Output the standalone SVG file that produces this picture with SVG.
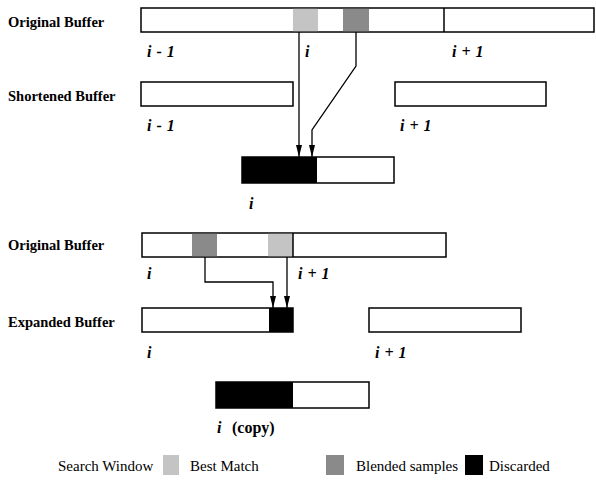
<svg xmlns="http://www.w3.org/2000/svg" width="596" height="483" viewBox="0 0 596 483">
<style>
.lbl{font-family:"Liberation Serif","Times New Roman",serif;font-weight:bold;font-size:14.5px;fill:#000}
.idx{font-family:"Liberation Serif","Times New Roman",serif;font-weight:bold;font-style:italic;font-size:16px;fill:#000;word-spacing:1px}
.leg{font-family:"Liberation Serif","Times New Roman",serif;font-size:15px;fill:#000}
.box{fill:#fff;stroke:#000;stroke-width:1.5}
.lt{fill:#c4c4c4}
.dk{fill:#8a8a8a}
.bk{fill:#000}
.div{stroke:#000;stroke-width:1.5}
.con{fill:none;stroke:#000;stroke-width:1.3}
</style>
<defs>
<marker id="ah" viewBox="0 0 12 6" refX="12" refY="3" markerWidth="12" markerHeight="6" markerUnits="userSpaceOnUse" orient="auto">
<path d="M0,0 L12,3 L0,6 Z" fill="#000"/>
</marker>
</defs>

<g id="orig1">
<text class="lbl" x="8" y="27">Original Buffer</text>
<rect class="box" x="141" y="8" width="453" height="24"/>
<rect class="lt" x="293" y="8.8" width="25" height="22.4"/>
<rect class="dk" x="343" y="8.8" width="26" height="22.4"/>
<line class="div" x1="444" y1="8" x2="444" y2="32"/>
<text class="idx" x="147" y="57">i - 1</text>
<text class="idx" x="305" y="57">i</text>
<text class="idx" x="452" y="57">i + 1</text>
</g>

<g id="short1">
<text class="lbl" x="8" y="101">Shortened Buffer</text>
<rect class="box" x="141" y="82" width="152" height="24"/>
<rect class="box" x="395" y="82" width="151" height="24"/>
<text class="idx" x="147" y="131">i - 1</text>
<text class="idx" x="400" y="131">i + 1</text>
</g>

<g id="result1">
<rect class="box" x="242" y="157" width="152" height="26"/>
<rect class="bk" x="242" y="157" width="75" height="26"/>
<text class="idx" x="249" y="209">i</text>
</g>

<g id="orig2">
<text class="lbl" x="8" y="250">Original Buffer</text>
<rect class="box" x="142" y="233" width="304" height="24"/>
<rect class="dk" x="192" y="233.8" width="25" height="22.4"/>
<rect class="lt" x="268" y="233.8" width="25" height="22.4"/>
<line class="div" x1="293" y1="233" x2="293" y2="257"/>
<text class="idx" x="147" y="279">i</text>
<text class="idx" x="298" y="279">i + 1</text>
</g>

<g id="exp2">
<text class="lbl" x="8" y="327">Expanded Buffer</text>
<rect class="box" x="142" y="308" width="151" height="24"/>
<rect class="bk" x="269" y="308" width="24" height="24"/>
<rect class="box" x="369" y="308" width="152" height="24"/>
<text class="idx" x="147" y="358">i</text>
<text class="idx" x="375" y="358">i + 1</text>
</g>

<g id="copy2">
<rect class="box" x="216" y="382" width="153" height="26"/>
<rect class="bk" x="216" y="382" width="77" height="26"/>
<text class="idx" x="217" y="433">i<tspan x="232" font-style="normal" font-size="16px">(copy)</tspan></text>
</g>

<g id="connectors">
<path class="con" d="M299,32 V157" marker-end="url(#ah)"/>
<path class="con" d="M356,32 V66 L312,130 V157" marker-end="url(#ah)"/>
<path class="con" d="M205,257 V282 H273 V308" marker-end="url(#ah)"/>
<path class="con" d="M287,257 V308" marker-end="url(#ah)"/>
</g>

<g id="legend">
<text class="leg" x="58" y="471">Search Window</text>
<rect class="lt" x="163" y="455" width="16" height="20"/>
<text class="leg" x="190" y="471">Best Match</text>
<rect class="dk" x="326" y="455" width="18" height="20"/>
<text class="leg" x="356" y="471">Blended samples</text>
<rect class="bk" x="465" y="455" width="18" height="20"/>
<text class="leg" x="489" y="471">Discarded</text>
</g>
</svg>
